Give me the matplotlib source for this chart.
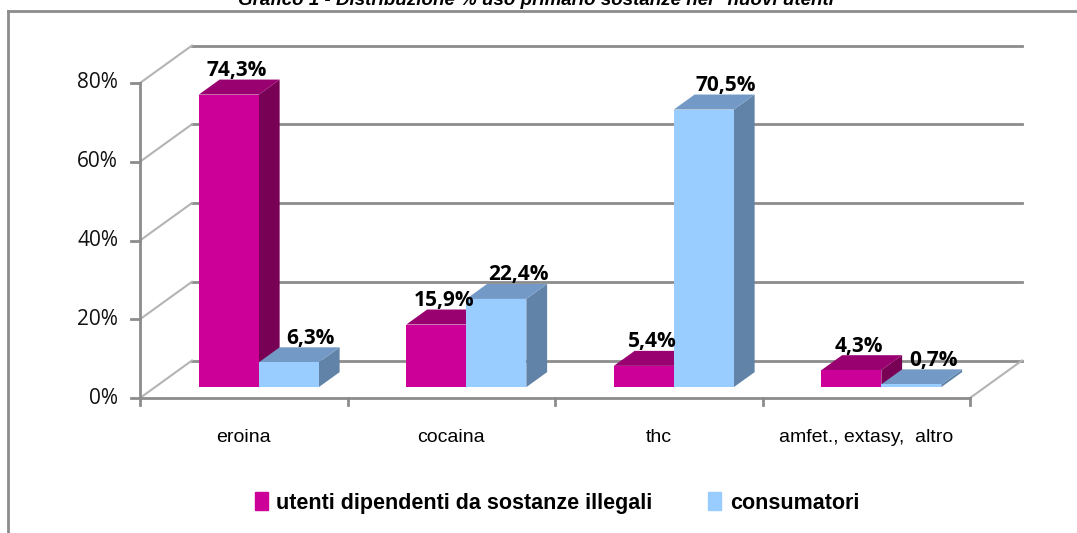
import numpy as np
import matplotlib
matplotlib.use("Agg")
import matplotlib.pyplot as plt
from matplotlib.lines import Line2D
from matplotlib.patches import Patch

categorie = ["eroina", "cocaina", "thc", "amfet., extasy,  altro"]
serie = ["utenti dipendenti da sostanze illegali", "consumatori"]
utenti = [74.3, 15.9, 5.4, 4.3]
consumatori = [6.3, 22.4, 70.5, 0.7]
yticks = [0, 20, 40, 60, 80]
titolo = 'Grafico 1 - Distribuzione % uso primario sostanze nei "nuovi utenti"'

# colori: fronte, sopra, lato
col_mag = ("#cc0099", "#990070", "#780055")
col_blu = ("#99ccff", "#739ac6", "#6283a8")
grigio = "#8c8c8c"
narrow = ["Liberation Sans", "DejaVu Sans"]

W, H = 1077, 533
fig = plt.figure(figsize=(W / 100, H / 100), dpi=100)
fig.patch.set_facecolor("white")

# asse: x 0..4 -> px 140..970, y 0..80 -> px 398..83
x0p, x1p, y0p, y1p = 140, 970, 398, 83
ax = fig.add_axes([x0p / W, 1 - y0p / H, (x1p - x0p) / W, (y0p - y1p) / H])
ax.set_xlim(0, 4)
ax.set_ylim(0, 80)
ax.axis("off")

pxx = (x1p - x0p) / 4.0
pxy = (y0p - y1p) / 80.0
DX = 52 / pxx          # profondita' del piano
DY = 37.5 / pxy
f0, f1 = 0.29, 0.69    # posizione delle barre in profondita'
bw = 60 / pxx
g0 = 0.5 - bw

kw = dict(clip_on=False)

# pareti: griglia di fondo e linee oblique a sinistra
for v in yticks:
    ax.plot([DX, 4 + DX], [v + DY, v + DY], color=grigio, lw=2, zorder=1, **kw)
    ax.plot([0, DX], [v, v + DY], color="#b4b4b4", lw=1.5, zorder=1, **kw)
    ax.plot([-9 / pxx, 0], [v, v], color=grigio, lw=2, zorder=1, **kw)
    ax.text(-22 / pxx, v, f"{v}%", ha="right", va="center", fontsize=15,
            family="Open Sans", color="#111111", **kw)
ax.plot([4, 4 + DX], [0, DY], color="#b4b4b4", lw=1.5, zorder=1, **kw)
ax.plot([0, 0], [0, 80], color=grigio, lw=2, zorder=1, **kw)
ax.plot([0, 4], [0, 0], color=grigio, lw=2, zorder=1, **kw)
for i in range(5):
    ax.plot([i, i], [0, -7 / pxy], color=grigio, lw=2, zorder=1, **kw)


def barra(xs, v, cols, z):
    a = xs + f0 * DX
    b = a + bw
    yb = f0 * DY
    yt = v + f0 * DY
    ddx = (f1 - f0) * DX
    ddy = (f1 - f0) * DY
    ax.fill([b, b + ddx, b + ddx, b], [yb, yb + ddy, yt + ddy, yt], color=cols[2], lw=0, zorder=z, **kw)
    ax.fill([a, b, b + ddx, a + ddx], [yt, yt, yt + ddy, yt + ddy], color=cols[1], lw=0, zorder=z, **kw)
    ax.fill([a, b, b, a], [yb, yb, yt, yt], color=cols[0], lw=0, zorder=z, **kw)


for i in range(len(categorie)):
    for j, (vals, cols, off) in enumerate([(utenti, col_mag, 8), (consumatori, col_blu, 22)]):
        xs = i + g0 + j * bw
        barra(xs, vals[i], cols, 3 + 2 * i + j)
        lx = xs + f0 * DX + bw / 2 + off / pxx
        ly = vals[i] + f1 * DY + 3.5 / pxy
        ax.text(lx, ly, f"{vals[i]:.1f}%".replace(".", ","), ha="center", va="baseline",
                fontsize=15, fontweight="bold", family="Open Sans", zorder=20, **kw)
    ax.text(i + 0.5, -39 / pxy, categorie[i], ha="center", va="center", fontsize=14,
            family=narrow, **kw)

# cornice esterna
fig.add_artist(Line2D([8 / W, 1], [1 - 11 / H, 1 - 11 / H], color=grigio, lw=2))
fig.add_artist(Line2D([8 / W, 8 / W], [0, 1 - 11 / H], color=grigio, lw=2))

fig.text(540 / W, 1 - 5 / H, titolo, ha="center", va="baseline", fontsize=13.5,
         fontweight="bold", fontstyle="italic", family=narrow)

handles = [Patch(color=col_mag[0]), Patch(color=col_blu[0])]
fig.legend(handles, serie, loc="center", bbox_to_anchor=(557 / W, 1 - 503 / H), ncol=2,
           frameon=False, handlelength=0.6, handleheight=0.9, handletextpad=0.4,
           columnspacing=2.6, prop=dict(family=narrow, weight="bold", size=15.5))

fig.savefig("out.png", dpi=100)
